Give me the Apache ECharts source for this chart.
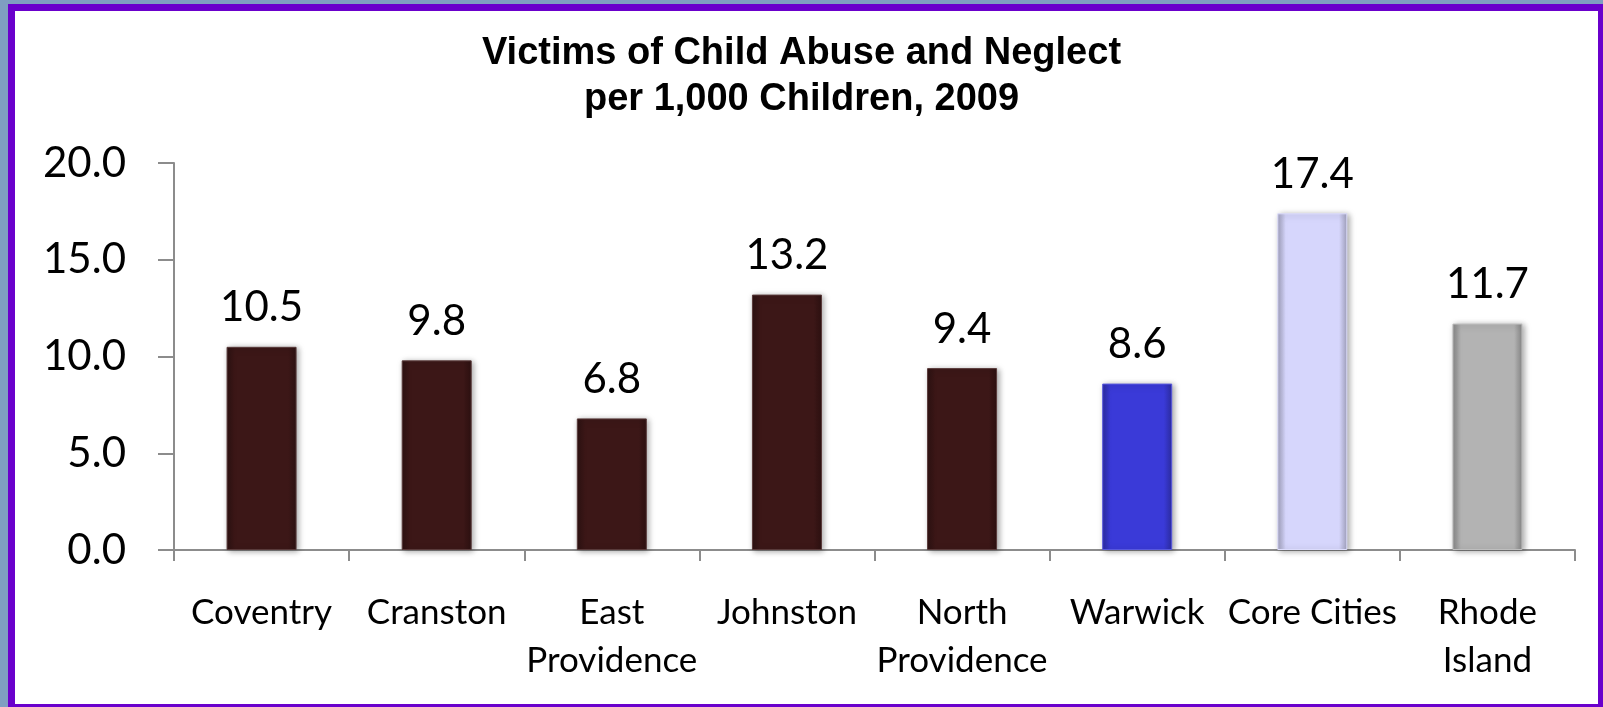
<!DOCTYPE html>
<html>
<head>
<meta charset="utf-8">
<script src="https://cdn.jsdelivr.net/npm/echarts@6/dist/echarts.min.js"></script>
<style>
html,body{margin:0;padding:0;width:1603px;height:707px;overflow:hidden;background:#7f9fc1;}
#frame{position:absolute;left:8px;top:4px;width:1597px;height:707px;box-sizing:border-box;border:7px solid #6a00cc;background:#ffffff;}
#chart{position:absolute;left:0;top:0;width:1603px;height:707px;}
</style>
</head>
<body>
<div id="frame"></div>
<div id="chart"></div>
<script>
const categories = ['Coventry', 'Cranston', 'East\nProvidence', 'Johnston', 'North\nProvidence', 'Warwick', 'Core Cities', 'Rhode\nIsland'];
const values = [10.5, 9.8, 6.8, 13.2, 9.4, 8.6, 17.4, 11.7];
const barColors = ['#3c1717', '#3c1717', '#3c1717', '#3c1717', '#3c1717', '#3a3ad8', '#d6d6fc', '#b3b3b3'];
const yTicks = [0, 5, 10, 15, 20];
const titleLines = ['Victims of Child Abuse and Neglect', 'per 1,000 Children, 2009'];

function shade(hex, f) {
  const n = parseInt(hex.slice(1), 16);
  let r = (n >> 16) & 255, g = (n >> 8) & 255, b = n & 255;
  const m = c => Math.max(0, Math.min(255, Math.round(f > 0 ? c + (255 - c) * f : c * (1 + f))));
  return 'rgb(' + m(r) + ',' + m(g) + ',' + m(b) + ')';
}

const chart = echarts.init(document.getElementById('chart'));
const font = 'Lato, "Open Sans", sans-serif';
chart.setOption({
  animation: false,
  backgroundColor: 'transparent',
  title: {
    text: titleLines.join('\n'),
    left: 'center',
    top: 26,
    textStyle: {
      fontFamily: '"Liberation Sans", Arial, sans-serif',
      fontWeight: 'bold', fontSize: 38, lineHeight: 46, color: '#000'
    }
  },
  grid: { left: 174, right: 28, top: 163, bottom: 157 },
  xAxis: {
    type: 'category',
    data: categories,
    axisLine: { lineStyle: { color: '#8c8c8c', width: 2 } },
    axisTick: { show: true, length: 11, lineStyle: { color: '#8c8c8c', width: 2 } },
    axisLabel: { color: '#000', fontFamily: font, fontSize: 35, lineHeight: 48, margin: 39, interval: 0 }
  },
  yAxis: {
    type: 'value',
    min: yTicks[0], max: yTicks[yTicks.length - 1], interval: 5,
    splitLine: { show: false },
    axisLine: { show: true, lineStyle: { color: '#8c8c8c', width: 2 } },
    axisTick: { show: true, length: 16, lineStyle: { color: '#8c8c8c', width: 2 } },
    axisLabel: { color: '#000', fontFamily: font, fontSize: 42, margin: 48, formatter: v => v.toFixed(1) }
  },
  series: [{
    type: 'bar',
    barWidth: 70,
    data: values.map((v, i) => ({
      value: v,
      itemStyle: {
        color: {
          type: 'linear', x: 0, y: 0, x2: 1, y2: 0,
          colorStops: [
            { offset: 0, color: shade(barColors[i], -0.25) },
            { offset: 0.12, color: barColors[i] },
            { offset: 0.88, color: barColors[i] },
            { offset: 1, color: shade(barColors[i], -0.25) }
          ]
        },
        borderColor: shade(barColors[i], 0.15),
        borderWidth: 1,
        shadowColor: 'rgba(0,0,0,0.35)', shadowBlur: 6, shadowOffsetX: 2, shadowOffsetY: 1
      }
    })),
    label: {
      show: true, position: 'top', distance: 18,
      color: '#000', fontFamily: font, fontSize: 42,
      formatter: p => p.value.toFixed(1)
    }
  }]
});
</script>
</body>
</html>
